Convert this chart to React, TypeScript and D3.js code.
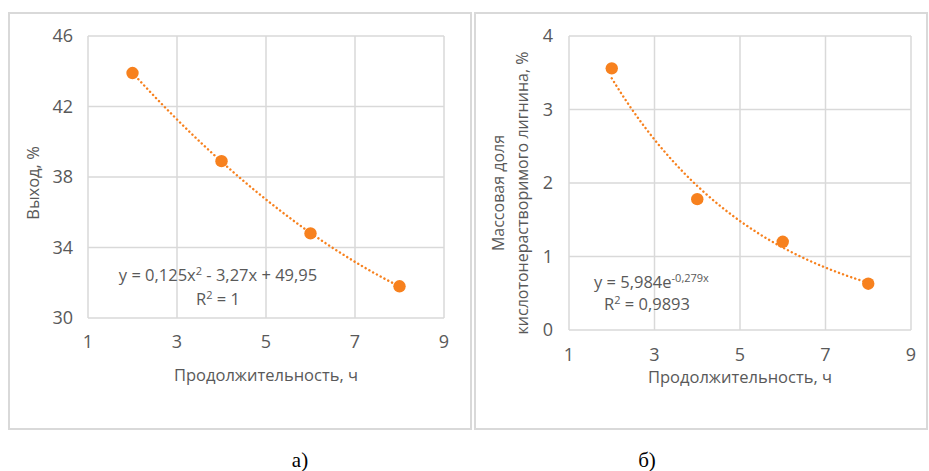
import React from "react";
import * as d3 from "d3";

// data
const hours = [2, 4, 6, 8];
const yieldPct = [43.9, 38.9, 34.8, 31.8];
const ligninPct = [3.56, 1.78, 1.2, 0.63];

const xTicks = [1, 3, 5, 7, 9];
const yTicksA = [30, 34, 38, 42, 46];
const yTicksB = [0, 1, 2, 3, 4];

const quadCoef = [0.125, -3.27, 49.95];
const expCoef = [5.984, -0.279];

const ORANGE = "#F7811E";
const GRID = "#d9d9d9";
const TEXT = "#595959";
const FONT = "'Open Sans', 'Liberation Sans', sans-serif";

type PanelProps = {
  x0: number; x1: number; y0: number; y1: number;
  yDomain: [number, number]; yTicks: number[];
  values: number[]; trend: (x: number) => number;
  xTitleY: number; tickY: number; labelRight: number;
};

function Panel(p: PanelProps) {
  const x = d3.scaleLinear().domain([1, 9]).range([p.x0, p.x1]);
  const y = d3.scaleLinear().domain(p.yDomain).range([p.y1, p.y0]);
  const trendPts = d3.range(2, 8.001, 0.1).map((t) => [x(t), y(p.trend(t))] as [number, number]);
  const line = d3.line()(trendPts) || "";
  return (
    <g>
      {xTicks.map((t) => (
        <line key={"gx" + t} x1={x(t)} x2={x(t)} y1={p.y0} y2={p.y1} stroke={GRID} strokeWidth={1.5} />
      ))}
      {p.yTicks.map((t) => (
        <line key={"gy" + t} x1={p.x0} x2={p.x1} y1={y(t)} y2={y(t)} stroke={GRID} strokeWidth={1.5} />
      ))}
      {p.yTicks.map((t) => (
        <text key={"ly" + t} x={p.labelRight} y={y(t)} dy="0.35em" textAnchor="end" fontSize={18} fill={TEXT}>{t}</text>
      ))}
      {xTicks.map((t) => (
        <text key={"lx" + t} x={x(t)} y={p.tickY} dy="0.35em" textAnchor="middle" fontSize={18} fill={TEXT}>{t}</text>
      ))}
      <path d={line} fill="none" stroke={ORANGE} strokeWidth={2.4} strokeDasharray="0.1 4.2" strokeLinecap="round" />
      {hours.map((h, i) => (
        <circle key={"p" + h} cx={x(h)} cy={y(p.values[i])} r={6.2} fill={ORANGE} />
      ))}
      <text x={(p.x0 + p.x1) / 2} y={p.xTitleY} dy="0.35em" textAnchor="middle" fontSize={16.5} fill={TEXT}>Продолжительность, ч</text>
    </g>
  );
}

export default function App() {
  return (
    <svg width={929} height={471} style={{ position: "absolute", left: 0, top: 0, background: "#fff" }} fontFamily={FONT}>
      <rect x={0} y={0} width={929} height={471} fill="#fff" />
      <rect x={9} y={13} width={462} height={416} fill="none" stroke={GRID} strokeWidth={2} />
      <rect x={475} y={13} width={452} height={416} fill="none" stroke={GRID} strokeWidth={2} />

      <Panel x0={88} x1={444} y0={36} y1={318} yDomain={[30, 46]} yTicks={yTicksA}
        values={yieldPct} trend={(t) => quadCoef[0] * t * t + quadCoef[1] * t + quadCoef[2]}
        xTitleY={375} tickY={342} labelRight={73} />
      <text transform="translate(33,183) rotate(-90)" dy="0.35em" textAnchor="middle" fontSize={16.5} fill={TEXT}>Выход, %</text>
      <text x={218} y={275} dy="0.35em" textAnchor="middle" fontSize={16.5} fill={TEXT}>
        y = 0,125x<tspan dy="-6" fontSize={11}>2</tspan><tspan dy="6"> - 3,27x + 49,95</tspan>
      </text>
      <text x={218} y={299} dy="0.35em" textAnchor="middle" fontSize={16.5} fill={TEXT}>
        R<tspan dy="-6" fontSize={11}>2</tspan><tspan dy="6"> = 1</tspan>
      </text>

      <Panel x0={569} x1={911} y0={36} y1={330} yDomain={[0, 4]} yTicks={yTicksB}
        values={ligninPct} trend={(t) => expCoef[0] * Math.exp(expCoef[1] * t)}
        xTitleY={377} tickY={355} labelRight={553} />
      <text transform="translate(498,193) rotate(-90)" dy="0.35em" textAnchor="middle" fontSize={16} fill={TEXT}>Массовая доля</text>
      <text transform="translate(522,193) rotate(-90)" dy="0.35em" textAnchor="middle" fontSize={16} fill={TEXT}>кислотонерастворимого лигнина, %</text>
      <text x={594} y={282} dy="0.35em" textAnchor="start" fontSize={16.5} fill={TEXT}>
        y = 5,984e<tspan dy="-6" fontSize={11}>-0,279x</tspan>
      </text>
      <text x={647} y={304} dy="0.35em" textAnchor="middle" fontSize={16.5} fill={TEXT}>
        R<tspan dy="-6" fontSize={11}>2</tspan><tspan dy="6"> = 0,9893</tspan>
      </text>

      <text x={300} y={460} dy="0.35em" textAnchor="middle" fontSize={21} fontFamily="'Liberation Serif', serif" fill="#000">а)</text>
      <text x={647} y={460} dy="0.35em" textAnchor="middle" fontSize={21} fontFamily="'Liberation Serif', serif" fill="#000">б)</text>
    </svg>
  );
}
